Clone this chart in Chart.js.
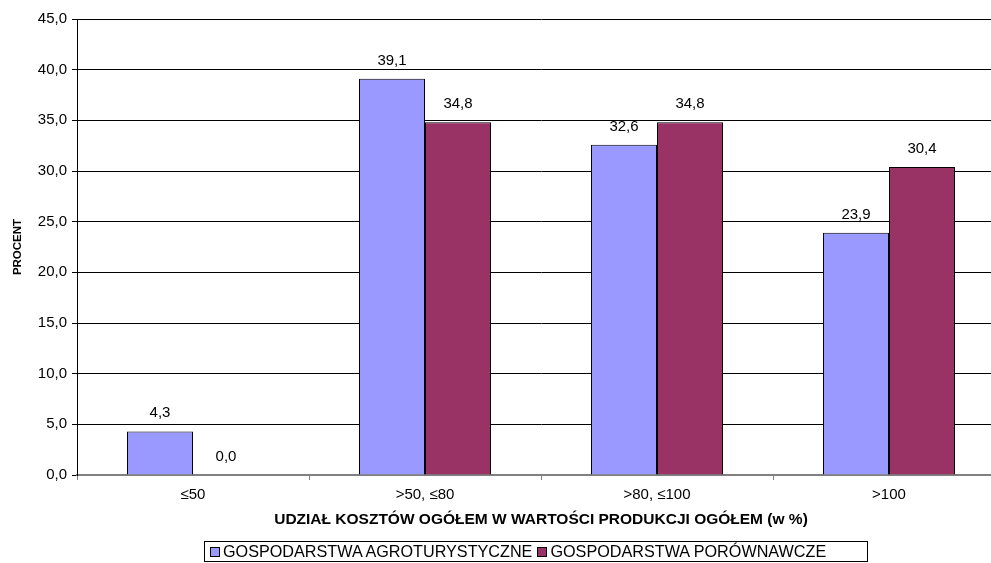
<!DOCTYPE html>
<html>
<head>
<meta charset="utf-8">
<script src="https://cdn.jsdelivr.net/npm/chart.js@4/dist/chart.umd.min.js"></script>
<style>
  html, body { margin: 0; padding: 0; background: #fff; overflow: hidden; }
  #wrap { position: absolute; left: 0; top: 0; width: 1082px; height: 563px; }
  #legend {
    position: absolute; left: 204px; top: 541px; width: 664px; height: 21px;
    border: 1px solid #000; box-sizing: border-box;
    display: flex; align-items: center;
    font: 16.2px "Liberation Sans", Arial, sans-serif; color: #000; white-space: nowrap;
  }
  #legend .item { display: flex; align-items: center; margin-left: 5px; }
  #legend .sw { width: 10px; height: 10px; border: 1px solid #000; margin-right: 3px; box-sizing: border-box; }
</style>
</head>
<body>
<div id="wrap"><canvas id="chart"></canvas></div>
<div id="legend"></div>
<script>
const categories = ['≤50', '>50, ≤80', '>80, ≤100', '>100'];
const seriesNames = ['GOSPODARSTWA AGROTURYSTYCZNE', 'GOSPODARSTWA PORÓWNAWCZE'];
const agroValues = [4.3, 39.1, 32.6, 23.9];
const porownValues = [0.0, 34.8, 34.8, 30.4];
const seriesColors = ['#9999FF', '#993366'];
const yMin = 0;
const yMax = 45;
const yStep = 5;

const FONT = '"Liberation Sans", Arial, sans-serif';
const fmt = (v) => v.toFixed(1).replace('.', ',');

// value labels above the bars
const valueLabels = {
  id: 'valueLabels',
  afterDatasetsDraw(chart) {
    const ctx = chart.ctx;
    ctx.save();
    ctx.font = '15px ' + FONT;
    ctx.fillStyle = '#000';
    ctx.textAlign = 'center';
    ctx.textBaseline = 'alphabetic';
    chart.data.datasets.forEach((ds, i) => {
      chart.getDatasetMeta(i).data.forEach((bar, j) => {
        ctx.fillText(fmt(ds.data[j]), bar.x, bar.y - 14);
      });
    });
    ctx.restore();
  }
};

new Chart(document.getElementById('chart'), {
  type: 'bar',
  data: {
    labels: categories,
    datasets: [
      { label: seriesNames[0], data: agroValues, backgroundColor: seriesColors[0], borderColor: '#000', borderWidth: 1 },
      { label: seriesNames[1], data: porownValues, backgroundColor: seriesColors[1], borderColor: '#000', borderWidth: 1 }
    ]
  },
  options: {
    responsive: true,
    maintainAspectRatio: false,
    animation: false,
    layout: { padding: { top: 19, right: 77, bottom: 34, left: 0 } },
    datasets: { bar: { categoryPercentage: 0.569, barPercentage: 1.0 } },
    scales: {
      x: {
        grid: { drawOnChartArea: false, drawTicks: true, tickLength: 5, offset: true, color: '#808080' },
        border: { display: true, color: '#808080', width: 2 },
        ticks: { color: '#000', font: { family: FONT, size: 15 }, padding: 6, maxRotation: 0 },
        title: {
          display: true,
          text: 'UDZIAŁ KOSZTÓW OGÓŁEM W WARTOŚCI PRODUKCJI OGÓŁEM (w %)',
          color: '#000',
          font: { family: FONT, size: 15.5, weight: 'bold' },
          padding: { top: 0, bottom: 0 }
        },
        afterFit: (scale) => { scale.height = 54; }
      },
      y: {
        min: yMin,
        max: yMax,
        grid: { color: '#000', lineWidth: 1, drawTicks: true, tickLength: 5 },
        border: { display: true, color: '#000', width: 1 },
        ticks: { stepSize: yStep, color: '#000', font: { family: FONT, size: 15 }, padding: 5, callback: (v) => fmt(v) },
        title: {
          display: true,
          text: 'PROCENT',
          color: '#000',
          font: { family: FONT, size: 11.5, weight: 'bold' },
          padding: { top: 11, bottom: 0 }
        },
        afterFit: (scale) => { scale.width = 77; }
      }
    },
    plugins: {
      legend: { display: false },
      tooltip: { enabled: false }
    }
  },
  plugins: [valueLabels]
});

const legend = document.getElementById('legend');
legend.innerHTML = seriesNames.map((name, i) =>
  `<span class="item"><span class="sw" style="background:${seriesColors[i]}"></span>${name}</span>`
).join('');
</script>
</body>
</html>
